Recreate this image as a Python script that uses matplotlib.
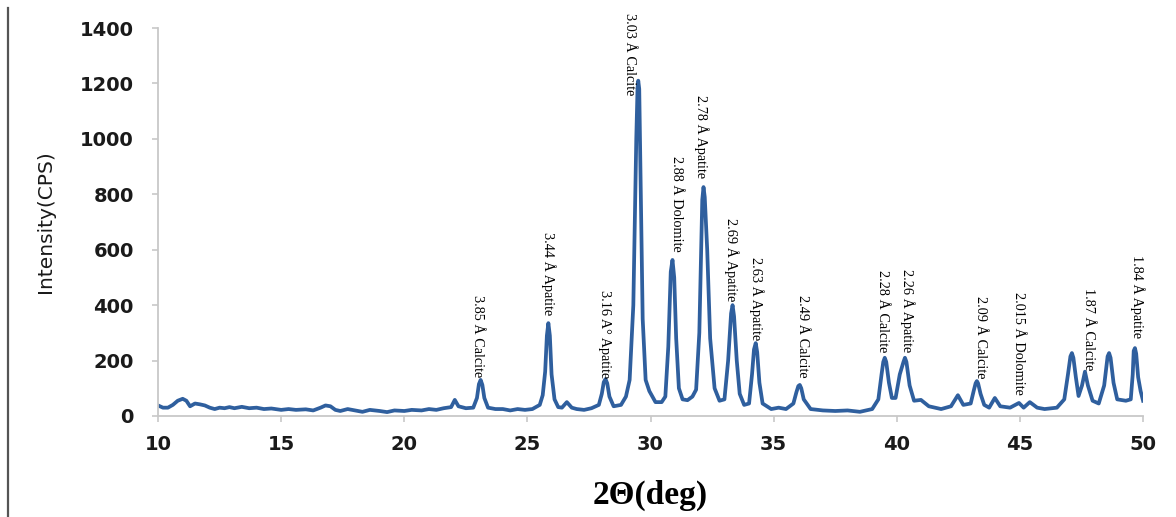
import matplotlib
matplotlib.use('Agg')
import matplotlib.pyplot as plt
from matplotlib.lines import Line2D

# XRD pattern (2-theta in deg, intensity in CPS)
two_theta = [10.0, 10.2, 10.4, 10.6, 10.8, 11.0, 11.15, 11.3, 11.5, 11.7, 11.9, 12.1, 12.3, 12.5,
             12.7, 12.9, 13.1, 13.4, 13.7, 14.0, 14.3, 14.6, 15.0, 15.3, 15.6, 16.0, 16.3, 16.6,
             16.8, 17.0, 17.2, 17.4, 17.7, 18.0, 18.3, 18.6, 19.0, 19.3, 19.6, 20.0, 20.3, 20.7,
             21.0, 21.3, 21.6, 21.9, 22.05, 22.2, 22.5, 22.8, 22.95, 23.03, 23.1, 23.17, 23.25,
             23.4, 23.7, 24.0, 24.3, 24.6, 24.9, 25.2, 25.5, 25.62, 25.72, 25.79, 25.85, 25.91,
             25.98, 26.1, 26.25, 26.4, 26.6, 26.8, 27.0, 27.3, 27.6, 27.9, 28.02, 28.1, 28.17,
             28.24, 28.33, 28.5, 28.8, 29.0, 29.15, 29.3, 29.42, 29.47, 29.5, 29.54, 29.58,
             29.68, 29.8, 29.95, 30.2, 30.45, 30.6, 30.72, 30.82, 30.89, 30.96, 31.04, 31.15,
             31.3, 31.5, 31.7, 31.85, 31.98, 32.1, 32.15, 32.2, 32.3, 32.42, 32.6, 32.8, 33.0,
             33.15, 33.27, 33.33, 33.39, 33.5, 33.62, 33.8, 34.0, 34.12, 34.2, 34.27, 34.33,
             34.42, 34.55, 34.9, 35.2, 35.5, 35.8, 35.92, 36.0, 36.06, 36.12, 36.22, 36.5,
             37.0, 37.5, 38.0, 38.5, 39.0, 39.25, 39.38, 39.45, 39.51, 39.57, 39.68, 39.8,
             39.95, 40.12, 40.27, 40.33, 40.39, 40.52, 40.7, 40.98, 41.3, 41.8, 42.2, 42.48,
             42.7, 43.0, 43.12, 43.2, 43.25, 43.3, 43.4, 43.55, 43.75, 43.98, 44.2, 44.6,
             44.96, 45.15, 45.4, 45.7, 46.0, 46.5, 46.8, 46.95, 47.05, 47.11, 47.17, 47.27,
             47.38, 47.52, 47.64, 47.76, 47.95, 48.2, 48.42, 48.56, 48.62, 48.68, 48.8, 48.95,
             49.3, 49.5, 49.58, 49.62, 49.67, 49.72, 49.8, 49.9, 50.0]
intensity = [38, 30, 30, 40, 55, 62, 55, 35, 45, 42, 38, 30, 25, 30,
             28, 32, 28, 33, 28, 30, 25, 27, 22, 25, 22, 24, 20, 30,
             38, 35, 22, 18, 25, 20, 15, 22, 18, 14, 20, 18, 22, 20,
             25, 22, 28, 32, 58, 35, 28, 30, 65, 115, 130, 112, 65,
             30, 25, 25, 20, 25, 22, 25, 40, 75, 160, 290, 335, 290,
             150, 60, 32, 30, 50, 30, 25, 22, 28, 40, 80, 122, 133,
             118, 70, 35, 40, 70, 130, 400, 1000, 1180, 1210, 1180, 950,
             350, 130, 90, 50, 50, 70, 250, 520, 563, 500, 280, 100,
             60, 57, 70, 95, 300, 780, 826, 790, 600, 280, 100, 55, 60,
             200, 370, 400, 360, 200, 80, 40, 45, 150, 240, 263, 230,
             120, 45, 25, 30, 25, 45, 85, 108, 112, 100, 60, 25,
             20, 18, 20, 15, 25, 60, 150, 195, 210, 195, 120, 65,
             65, 150, 195, 210, 195, 110, 55, 58, 35, 25, 35, 75,
             40, 45, 90, 118, 126, 118, 80, 40, 30, 65, 35, 30,
             47, 30, 50, 30, 25, 30, 60, 150, 215, 227, 210, 140,
             72, 110, 160, 110, 55, 45, 110, 215, 227, 210, 120, 60,
             55, 60, 150, 235, 245, 225, 140, 90, 55]

# peak annotations and where their text sits
peak_labels = ['3.85 Å Calcite', '3.44 Å Apatite', '3.16 A° Apatite', '3.03 Å Calcite',
               '2.88 Å Dolomite', '2.78 Å Apatite', '2.69 Å Apatite', '2.63 Å Apatite',
               '2.49 Å Calcite', '2.28 Å Calcite', '2.26 Å Apatite', '2.09 Å Calcite',
               '2.015 Å Dolomite', '1.87 Å Calcite', '1.84 Å Apatite']
label_x = [22.97, 25.85, 28.13, 29.15, 31.05, 32.07, 33.29, 34.31, 36.18, 39.43, 40.41,
           43.41, 44.96, 47.8, 49.76]
label_y = [141, 365, 137, 1158, 592, 858, 412, 274, 137, 231, 231, 137, 76, 166, 282]

x_ticks = [10, 15, 20, 25, 30, 35, 40, 45, 50]
y_ticks = [0, 200, 400, 600, 800, 1000, 1200, 1400]

fig = plt.figure(figsize=(11.76, 5.17), dpi=100)
ax = fig.add_axes([0.1344, 0.1954, 0.8376, 0.7504])

ax.plot(two_theta, intensity, color='#2f5f9e', lw=2.7, solid_joinstyle='round')

for txt, lx, ly in zip(peak_labels, label_x, label_y):
    ax.text(lx, ly, txt, rotation=270, ha='center', va='bottom',
            family='Liberation Serif', fontsize=10.3, color='black', clip_on=False)

ax.set_xlim(10, 50)
ax.set_ylim(0, 1400)
ax.set_xticks(x_ticks)
ax.set_yticks(y_ticks)
for lab in ax.get_xticklabels() + ax.get_yticklabels():
    lab.set_fontweight('bold')
    lab.set_fontsize(14)
    lab.set_color('#1a1a1a')

for s in ['top', 'right']:
    ax.spines[s].set_visible(False)
for s in ['left', 'bottom']:
    ax.spines[s].set_color('#c8c8c8')
    ax.spines[s].set_linewidth(1.3)
ax.tick_params(colors='#c8c8c8', length=4.5, width=1.2, labelcolor='#1a1a1a')
ax.tick_params(axis='x', pad=9)
ax.tick_params(axis='y', pad=13)

ax.set_ylabel('Intensity(CPS)', fontsize=14.5, color='#1a1a1a', labelpad=18)
ax.set_xlabel('2Θ(deg)', family='Liberation Serif', fontweight='bold', fontsize=24,
              color='black', labelpad=19)

# dark rule along the left edge of the picture
fig.add_artist(Line2D([8 / 1176, 8 / 1176], [0, 1 - 8 / 517], transform=fig.transFigure,
                      color='#555555', lw=1.6))

fig.savefig('out.png', dpi=100)
